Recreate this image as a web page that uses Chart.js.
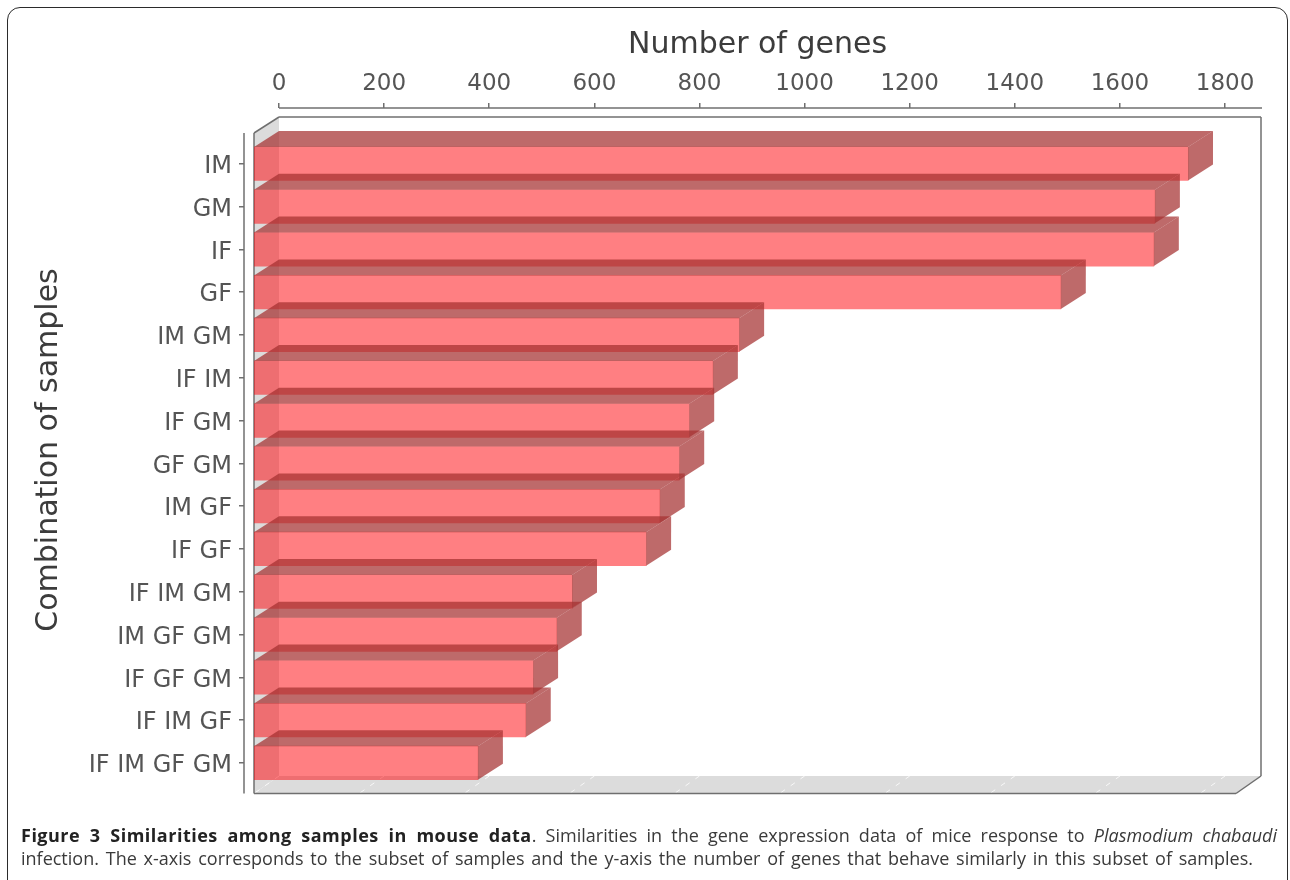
<!DOCTYPE html>
<html>
<head>
<meta charset="utf-8">
<title>Similarities among samples in mouse data</title>
<script src="https://cdn.jsdelivr.net/npm/chart.js@4"></script>
<style>
  html, body { margin: 0; padding: 0; background: #fff; width: 1290px; height: 880px; overflow: hidden; }
  #chart { position: absolute; left: 0; top: 0; }
  #frame { position: absolute; left: 7px; top: 7px; width: 1279px; height: 900px; border: 1.5px solid #2b2b2b; border-radius: 13px; box-sizing: content-box; }
  .caption { position: absolute; left: 21px; font-family: "Open Sans", sans-serif; font-size: 18px; line-height: 26px; color: #3a3a3a; }
  .caption b { color: #222; letter-spacing: 0.5px; }
  #line1 { top: 822px; width: 1256px; text-align: justify; text-align-last: justify; }
  #line2 { top: 845px; width: 1232px; text-align: justify; text-align-last: justify; }
</style>
</head>
<body>
<canvas id="chart" width="1290" height="880"></canvas>
<div id="frame"></div>
<div class="caption" id="line1"><b>Figure 3 Similarities among samples in mouse data</b>. Similarities in the gene expression data of mice response to <i>Plasmodium chabaudi</i></div>
<div class="caption" id="line2">infection. The x-axis corresponds to the subset of samples and the y-axis the number of genes that behave similarly in this subset of samples.</div>
<script>
// Gene counts per combination of samples
const sampleCombinations = ['IM', 'GM', 'IF', 'GF', 'IM GM', 'IF IM', 'IF GM', 'GF GM', 'IM GF', 'IF GF',
  'IF IM GM', 'IM GF GM', 'IF GF GM', 'IF IM GF', 'IF IM GF GM'];
const geneCounts = [1777, 1714, 1712, 1535, 923, 873, 828, 809, 772, 746, 605, 576, 531, 517, 426];
const xAxisTitle = 'Number of genes';
const yAxisTitle = 'Combination of samples';

// Oblique projection of the 3D look
const DEPTH_X = 25;
const DEPTH_Y = 16;
const PX_PER_GENE = 0.5256;
const PLOT = { left: 254, right: 1261, top: 142.35, bottom: 784.35 };
const WALL = { top: 117, floorBack: 776, floorFront: 793.5, frontTop: 133 };

function poly(ctx, pts, fill) {
  ctx.beginPath();
  pts.forEach((p, i) => i ? ctx.lineTo(p[0], p[1]) : ctx.moveTo(p[0], p[1]));
  ctx.closePath();
  ctx.fillStyle = fill;
  ctx.fill();
}

function segment(ctx, x1, y1, x2, y2, color, width) {
  ctx.beginPath();
  ctx.moveTo(x1, y1);
  ctx.lineTo(x2, y2);
  ctx.strokeStyle = color;
  ctx.lineWidth = width;
  ctx.stroke();
}

const box3d = {
  id: 'box3d',
  afterLayout(chart) {
    // The value axis runs along the back edge of the box, the category axis stands off its front edge
    const top = chart.scales.xTop;
    const savedLeft = top.left;
    top.left = savedLeft + DEPTH_X;
    top.configure();
    top.left = savedLeft;
    top.bottom = 108;
    top.top = 27;

    const y = chart.scales.y;
    y.left = 31;
    y.right = 244;
    y.top = 106;
    y.bottom = 794;
  },
  beforeDatasetsDraw(chart) {
    const ctx = chart.ctx;
    const { left, right } = PLOT;
    const backLeft = left + DEPTH_X;
    const wallFill = '#dcdcdc';
    ctx.save();
    // Side wall and floor
    poly(ctx, [[left, WALL.frontTop], [backLeft, WALL.top], [backLeft, WALL.floorBack], [left, WALL.floorFront]], wallFill);
    poly(ctx, [[left, WALL.floorFront], [backLeft, WALL.floorBack], [right, WALL.floorBack], [right - DEPTH_X, WALL.floorFront]], wallFill);

    // Gridlines crossing the floor
    const xTop = chart.scales.xTop;
    ctx.setLineDash([5, 7]);
    xTop.ticks.forEach(t => {
      const px = xTop.getPixelForValue(t.value);
      segment(ctx, px, WALL.floorBack, px - DEPTH_X, WALL.floorFront, 'rgba(255,255,255,0.8)', 1);
    });
    ctx.setLineDash([]);

    // Box outline
    const edge = '#6f6f6f';
    segment(ctx, left, WALL.frontTop, left, WALL.floorFront, edge, 1.5);
    segment(ctx, left, WALL.floorFront, right - DEPTH_X, WALL.floorFront, edge, 1.5);
    segment(ctx, left, WALL.frontTop, backLeft, WALL.top, edge, 1.5);
    segment(ctx, backLeft, WALL.top, right, WALL.top, edge, 1.5);
    segment(ctx, right, WALL.top, right, WALL.floorBack, edge, 1.5);
    segment(ctx, right, WALL.floorBack, right - DEPTH_X, WALL.floorFront, edge, 1.5);

    // Axis lines
    segment(ctx, xTop.getPixelForValue(0), 108, right + 1, 108, '#6f6f6f', 1.5);
    segment(ctx, 244, WALL.frontTop, 244, WALL.floorFront, '#6f6f6f', 1.5);
    ctx.restore();
  },
  afterDatasetsDraw(chart) {
    // Top and end faces of every bar, positioned from its element
    const ctx = chart.ctx;
    const faceFill = 'rgba(165,48,48,0.72)';
    const bars = chart.getDatasetMeta(0).data;
    ctx.save();
    for (let i = bars.length - 1; i >= 0; i--) {
      const b = bars[i];
      const t = b.y - b.height / 2;
      const u = b.y + b.height / 2;
      poly(ctx, [[b.base, t], [b.base + DEPTH_X, t - DEPTH_Y], [b.x + DEPTH_X, t - DEPTH_Y], [b.x, t]], faceFill);
      poly(ctx, [[b.x, t], [b.x + DEPTH_X, t - DEPTH_Y], [b.x + DEPTH_X, u - DEPTH_Y], [b.x, u]], faceFill);
    }
    ctx.restore();
  }
};

const tickFont = { family: '"DejaVu Sans", sans-serif', size: 23 };
const categoryFont = { family: '"DejaVu Sans", sans-serif', size: 24 };
const titleFont = { family: '"DejaVu Sans", sans-serif', size: 30 };

new Chart(document.getElementById('chart'), {
  type: 'bar',
  data: {
    labels: sampleCombinations,
    datasets: [{
      data: geneCounts,
      xAxisID: 'x',
      yAxisID: 'y',
      backgroundColor: 'rgba(255,0,6,0.5)',
      borderWidth: 0,
      barThickness: 33.5
    }]
  },
  options: {
    indexAxis: 'y',
    responsive: false,
    animation: false,
    devicePixelRatio: 1,
    layout: { padding: { left: 0, right: 1290 - PLOT.right, top: 0, bottom: 880 - PLOT.bottom } },
    plugins: { legend: { display: false }, tooltip: { enabled: false } },
    scales: {
      x: {
        type: 'linear',
        display: false,
        min: 0,
        max: (PLOT.right - PLOT.left) / PX_PER_GENE
      },
      xTop: {
        type: 'linear',
        position: 'top',
        min: 0,
        max: (PLOT.right - PLOT.left - DEPTH_X) / PX_PER_GENE,
        afterFit(scale) { scale.height = PLOT.top; },
        border: { display: false },
        grid: { drawOnChartArea: false, drawTicks: true, tickLength: 5, color: '#6f6f6f', lineWidth: 1.5 },
        ticks: {
          stepSize: 200,
          includeBounds: false,
          maxRotation: 0,
          autoSkip: false,
          font: tickFont,
          color: '#555',
          padding: 5,
          callback: v => String(v)
        },
        title: { display: true, text: xAxisTitle, font: titleFont, color: '#3c3c3c', padding: { top: 0, bottom: 4 } }
      },
      y: {
        type: 'category',
        position: 'left',
        afterFit(scale) { scale.width = PLOT.left; },
        border: { display: false },
        grid: { drawOnChartArea: false, offset: false, drawTicks: true, tickLength: 5, color: '#6f6f6f', lineWidth: 1.5 },
        ticks: { font: categoryFont, color: '#555', padding: 7, autoSkip: false, labelOffset: 3 },
        title: { display: true, text: yAxisTitle, font: titleFont, color: '#3c3c3c', padding: { top: 0, bottom: 0 } }
      }
    }
  },
  plugins: [box3d]
});
</script>
</body>
</html>
